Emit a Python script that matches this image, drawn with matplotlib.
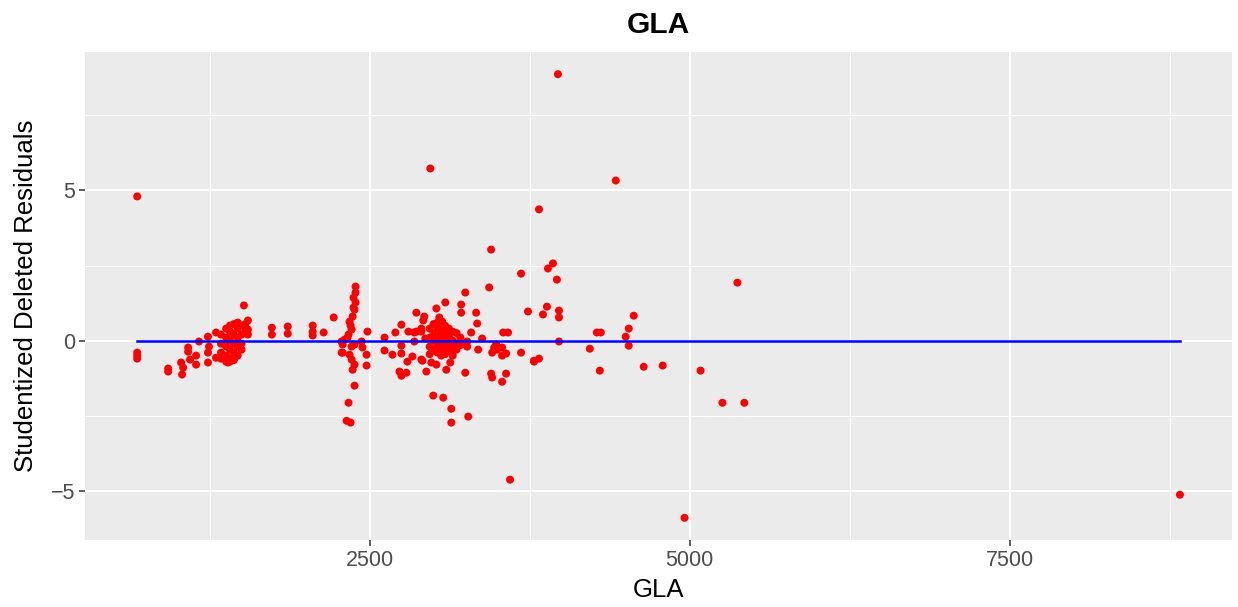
import numpy as np
import matplotlib
matplotlib.use("Agg")
import matplotlib.pyplot as plt
from matplotlib.ticker import MultipleLocator

plt.rcParams["font.family"] = ["Liberation Sans", "DejaVu Sans"]

# ---- Data ----
gla = [
    685, 685, 685, 685,
    927, 927, 1028, 1036, 1044, 1083, 1083, 1098, 1145, 1145, 1168,
    1238, 1246, 1238, 1238, 1301, 1301,
    1340, 1340, 1340, 1340,
    1380, 1380, 1380, 1380, 1380,
    1410, 1410, 1410, 1410, 1410, 1410,
    1440, 1440, 1440, 1440, 1440,
    1470, 1470, 1470, 1470, 1470,
    1500, 1500, 1500, 1500, 1530, 1530, 1394,
    1519, 1550, 1550, 1550, 1737, 1737, 1861, 1861,
    2056, 2056, 2056, 2142, 2220, 2282, 2282,
    2391, 2391, 2391, 2383, 2368, 2344, 2360, 2336, 2305, 2290, 2290,
    2360, 2360, 2368, 2383, 2336, 2352, 2321,
    2375, 2375, 2352, 2328, 2383, 2344, 2383,
    2438, 2445, 2477, 2477, 2484,
    2617, 2617, 2679, 2702, 2749, 2749, 2734, 2749, 2788, 2796, 2804,
    2835, 2850, 2866, 2866, 2905, 2905, 2928, 2936, 2944, 3022, 3022,
    3092, 2998, 3076, 3139, 3139, 3271,
    2749, 2913, 2983, 3100, 3131, 2920, 2850, 2905, 3045, 3068,
    2970, 2970, 2970, 2970,
    3000, 3000, 3000, 3000,
    3030, 3030, 3030, 3030, 3030,
    3060, 3060, 3060, 3060, 3060,
    3090, 3090, 3090, 3090, 3090,
    3120, 3120, 3120, 3120,
    3150, 3150, 3150, 3150,
    3180, 3180, 3180, 3210, 3210,
    3216, 3216, 3248, 3333, 3341, 3294, 3263, 3349, 3380, 3248,
    3435, 3450, 3458, 3458, 3489, 3536, 3536, 3544, 3567, 3582, 3536,
    3684, 3684, 3738, 3785, 3263, 3474, 3497, 3567,
    3450, 3824, 2975, 4424, 3894, 3933, 3964, 3886, 3855, 3980, 3980,
    4564, 4525, 4501, 4525, 4276, 4307, 3980, 4221, 4299, 3824, 3785,
    3972, 5374, 4642, 4790, 5086, 5257, 5428, 4961, 8831, 3598,
]
resid = [
    4.80, -0.40, -0.50, -0.60,
    -0.93, -1.03, -0.73, -1.13, -0.90, -0.23, -0.37, -0.63, -0.50, -0.80, -0.03,
    0.13, -0.20, -0.40, -0.73, 0.27, -0.57,
    0.20, -0.10, -0.40, -0.60,
    0.40, 0.10, -0.20, -0.50, -0.70,
    0.50, 0.30, 0.00, -0.30, -0.60, -0.70,
    0.55, 0.20, -0.10, -0.40, -0.65,
    0.60, 0.40, 0.10, -0.20, -0.50,
    0.50, 0.20, -0.10, -0.30, 0.55, 0.30, -0.73,
    1.17, 0.67, 0.37, 0.20, 0.43, 0.20, 0.47, 0.23,
    0.50, 0.30, 0.17, 0.27, 0.77, -0.03, -0.40,
    1.80, 1.60, 1.27, 1.03, 0.80, 0.63, 0.37, 0.20, 0.03, -0.13, -0.40,
    -0.20, -0.63, -0.97, -1.50, -2.07, -2.73, -2.67,
    1.43, 1.10, 0.50, 0.10, -0.13, -0.47, -0.80,
    -0.03, -0.23, -0.47, -0.83, 0.30,
    0.10, -0.33, -0.47, 0.27, 0.53, -0.17, -1.03, -1.17, -1.07, -0.70, 0.30,
    -0.53, -0.03, 0.30, 0.93, 0.40, -0.63, 0.80, 0.07, -1.03, 1.07, -0.80,
    1.27, -1.83, -1.90, -2.27, -2.73, -2.53,
    -0.43, -0.67, -0.73, -0.97, -0.73, 0.67, 0.27, 0.30, 0.77, 0.63,
    0.40, 0.10, -0.20, -0.45,
    0.55, 0.25, 0.00, -0.30,
    0.60, 0.35, 0.10, -0.15, -0.40,
    0.45, 0.20, -0.05, -0.30, -0.50,
    0.50, 0.30, 0.05, -0.20, -0.45,
    0.40, 0.15, -0.10, -0.35,
    0.30, 0.00, -0.25, -0.50,
    0.25, -0.10, -0.30, 0.10, -0.15,
    1.20, 0.93, 1.60, 0.93, 0.57, 0.27, -0.03, -0.30, 0.07, -1.07,
    1.77, -1.10, -1.23, -0.40, -0.13, -0.23, -0.50, 0.27, -1.10, 0.27, -1.37,
    -0.40, 2.23, 0.97, -0.67, -0.20, -0.23, -0.30, -0.43,
    3.03, 4.37, 5.73, 5.33, 2.40, 2.57, 2.03, 1.13, 0.87, 1.00, 0.77,
    0.83, 0.40, 0.13, -0.17, 0.27, 0.27, -0.03, -0.27, -1.00, -0.60, -0.70,
    8.87, 1.93, -0.87, -0.83, -1.00, -2.07, -2.07, -5.90, -5.13, -4.63,
]

x = np.array(gla, dtype=float)
y = np.array(resid, dtype=float)

# ---- Plot (ggplot2 theme_gray look) ----
fig = plt.figure(figsize=(12.38, 6.07), dpi=100)
ax = fig.add_axes([0.0687, 0.1104, 0.9265, 0.8039])
ax.set_facecolor("#EBEBEB")

xr = x.max() - x.min()
yr = y.max() - y.min()
ax.set_xlim(x.min() - 0.05 * xr, x.max() + 0.05 * xr)
ax.set_ylim(y.min() - 0.05 * yr, y.max() + 0.05 * yr)

ax.xaxis.set_major_locator(MultipleLocator(2500))
ax.xaxis.set_minor_locator(MultipleLocator(1250))
ax.yaxis.set_major_locator(MultipleLocator(5))
ax.yaxis.set_minor_locator(MultipleLocator(2.5))
ax.grid(which="major", color="white", linewidth=1.5)
ax.grid(which="minor", color="white", linewidth=0.75)
ax.set_axisbelow(True)
for s in ax.spines.values():
    s.set_visible(False)

ax.tick_params(which="major", length=4, width=1.1, color="#333333",
               labelsize=15.5, labelcolor="#4D4D4D", pad=3)
ax.tick_params(which="minor", length=0)

ax.scatter(x, y, s=33, color="red", edgecolors="none", zorder=3)
ax.plot([x.min(), x.max()], [0, 0], color="blue", linewidth=1.8, zorder=4)

ax.set_title("GLA", fontsize=21.5, fontweight="bold", pad=14)
ax.set_xlabel("GLA", fontsize=18.5, labelpad=5)
ax.set_ylabel("Studentized Deleted Residuals", fontsize=18.5, labelpad=9)

fig.savefig("out.png", dpi=100)
